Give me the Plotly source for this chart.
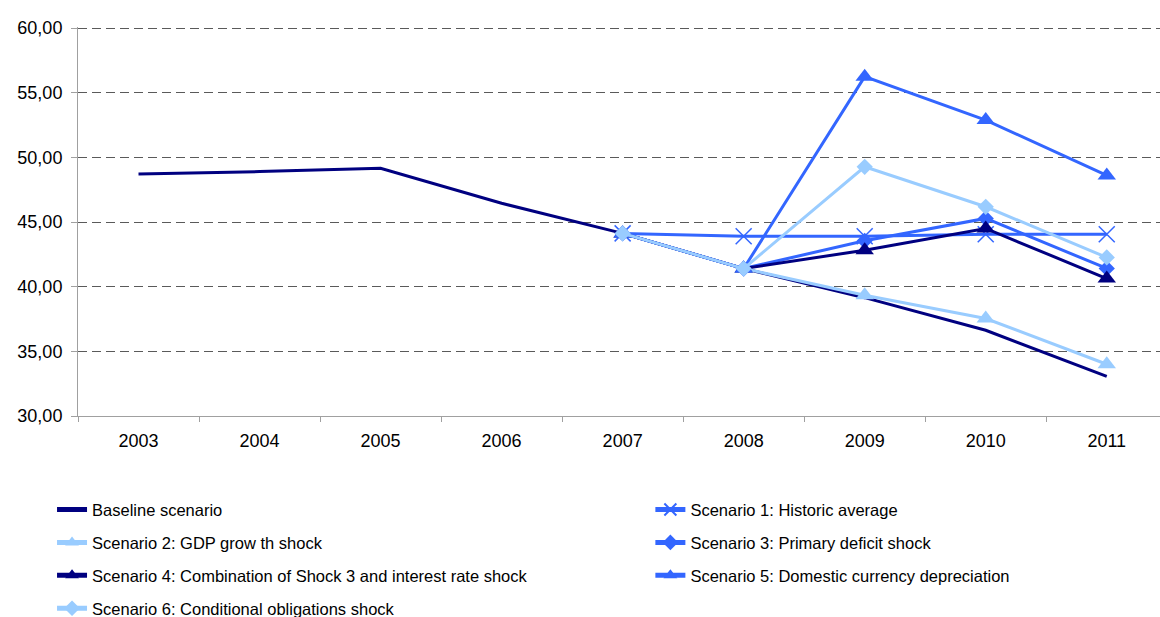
import plotly.graph_objects as go

years = ["2003", "2004", "2005", "2006", "2007", "2008", "2009", "2010", "2011"]
proj_years = ["2007", "2008", "2009", "2010", "2011"]

baseline = [48.72, 48.90, 49.15, 46.45, 44.12, 41.40, 39.15, 36.63, 33.07]
scen1 = [44.12, 43.90, 43.90, 44.05, 44.05]
scen2 = [44.12, 41.40, 39.34, 37.54, 34.00]
scen3 = [44.12, 41.40, 43.55, 45.28, 41.41]
scen4 = [44.12, 41.40, 42.82, 44.50, 40.63]
scen5 = [44.12, 41.40, 56.24, 52.88, 48.60]
scen6 = [44.12, 41.40, 49.27, 46.18, 42.26]

NAVY = "#000080"
BLUE = "#3366FF"
LIGHT = "#99CCFF"

fig = go.Figure()

def add(name, x, y, color, symbol=None, size=13, legend="legend", mline=None):
    mode = "lines" if symbol is None else "lines+markers"
    marker = dict(symbol=symbol, size=size, color=color)
    if mline:
        marker["line"] = dict(color=color, width=mline)
    fig.add_trace(go.Scatter(
        x=x, y=y, name=name, mode=mode,
        line=dict(color=color, width=3),
        marker=marker if symbol else None,
        legend=legend, legendgroup=name,
    ))

add("Baseline scenario", years, baseline, NAVY)
add("Scenario 1: Historic average", proj_years, scen1, BLUE, "x-thin", 16, "legend2", mline=1.5)
add("Scenario 2: GDP grow th shock", proj_years, scen2, LIGHT, "triangle-up", 16)
add("Scenario 3: Primary deficit shock", proj_years, scen3, BLUE, "diamond", 12.5, "legend2")
add("Scenario 4: Combination of Shock 3 and interest rate shock", proj_years, scen4, NAVY, "triangle-up", 16)
add("Scenario 5: Domestic currency depreciation", proj_years, scen5, BLUE, "triangle-up", 16, "legend2")
add("Scenario 6: Conditional obligations shock", proj_years, scen6, LIGHT, "diamond", 12.5)

legend_style = dict(
    orientation="v", font=dict(size=16.5, color="#000000"),
    bgcolor="rgba(0,0,0,0)", tracegroupgap=8.5,
    yanchor="top", xanchor="left", itemwidth=30, itemsizing="constant",
)

fig.update_layout(
    width=1160, height=617,
    margin=dict(l=78, r=0, t=27, b=201, autoexpand=False),
    paper_bgcolor="white", plot_bgcolor="white",
    font=dict(family="Liberation Sans, Arial, sans-serif", size=18, color="#000000"),
    separators=",.",
    showlegend=True,
    legend=dict(x=-0.024, y=-0.196, **legend_style),
    legend2=dict(x=0.529, y=-0.196, **legend_style),
    xaxis=dict(
        type="category", categoryorder="array", categoryarray=years,
        range=[-0.5, 8.44],
        showline=True, linecolor="#A0A0A0", linewidth=1,
        ticks="outside", tickson="boundaries", ticklen=5, tickcolor="#A0A0A0",
        showgrid=False, tickfont=dict(size=18), ticklabelstandoff=8,
        automargin=False,
    ),
    yaxis=dict(
        range=[30, 60.08], dtick=5, tick0=30, tickformat=".2f",
        showline=True, linecolor="#A0A0A0", linewidth=1,
        ticks="outside", ticklen=6, tickcolor="#A0A0A0",
        showgrid=True, gridcolor="#5A5A5A", gridwidth=1, griddash="9px,5px",
        zeroline=False, tickfont=dict(size=18), ticklabelstandoff=5,
        automargin=False,
    ),
)

fig.write_html("out.html")
